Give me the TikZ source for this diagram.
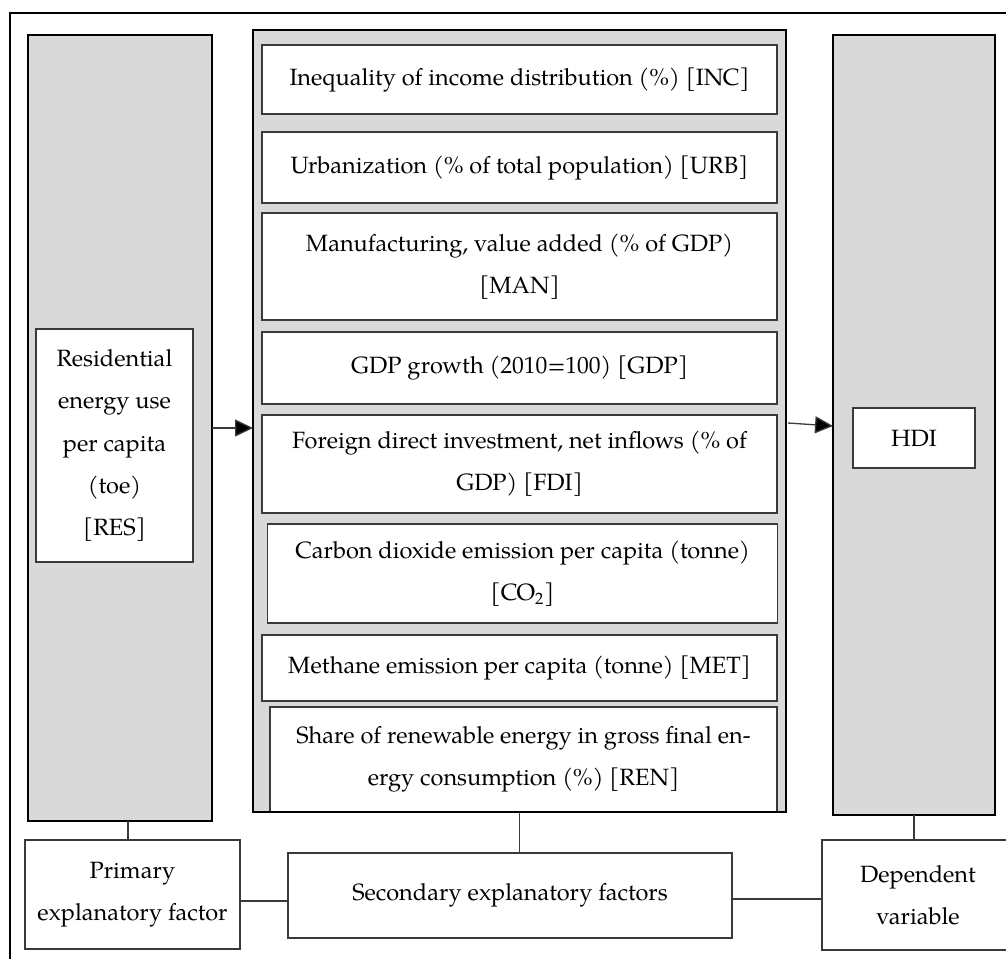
\documentclass[tikz,border=0pt]{standalone}
\usepackage{fontspec}
\setmainfont{TeX Gyre Pagella}
\usetikzlibrary{arrows.meta}

\definecolor{colgray}{HTML}{D9D9D9}
\definecolor{boxline}{HTML}{3A3A3A}

\tikzset{
  colbox/.style={draw=black, line width=1.2pt, fill=colgray, inner sep=0pt, outer sep=0pt},
  factorbox/.style={draw=boxline, line width=0.75pt, fill=white, align=center,
    inner sep=0pt, outer sep=0pt, minimum width=10.3cm},
  namebox/.style={draw=boxline, line width=0.75pt, fill=white, align=center,
    inner sep=0pt, outer sep=0pt},
  link/.style={draw=boxline, line width=0.75pt},
  flow/.style={-{Triangle[length=0.36cm, width=0.34cm, fill=black]}, line width=0.75pt, draw=boxline}
}

\begin{document}
\begin{tikzpicture}[x=0.02cm, y=-0.02cm, font=\fontsize{13.4}{24}\selectfont]
	\useasboundingbox (0,0) rectangle (1006,958);
	\clip (0,0) rectangle (1006,958);

	% outer frame
	\draw[line width=1.1pt] (10,13) rectangle (1030,990);

	% columns
	\node[colbox, minimum width=3.68cm, minimum height=15.72cm] (resCol) at (120,428) {};
	\node[colbox, minimum width=10.66cm, minimum height=15.64cm] (midCol) at (519.5,421) {};
	\node[colbox, minimum width=3.24cm, minimum height=15.6cm] (hdiCol) at (914,425) {};

	% secondary explanatory factors
	\node[factorbox, minimum height=1.38cm] (inc) at (519.5,79.5) {Inequality of income distribution (\%) [INC]};
	\node[factorbox, minimum height=1.42cm] (urb) at (519.5,167.5) {Urbanization (\% of total population) [URB]};
	\node[factorbox, minimum height=2.14cm] (man) at (519.5,266.5) {Manufacturing, value added (\% of GDP)\\{}[MAN]};
	\node[factorbox, minimum height=1.44cm] (gdp) at (519.5,368) {GDP growth (2010=100) [GDP]};
	\node[factorbox, minimum height=1.96cm] (fdi) at (519.5,464) {Foreign direct investment, net inflows (\% of\\ GDP) [FDI]};
	\node[factorbox, minimum height=1.98cm, minimum width=10.2cm] (co2) at (522.5,573.5) {Carbon dioxide emission per capita (tonne)\\{}[CO\textsubscript{2}]};
	\node[factorbox, minimum height=1.32cm] (met) at (519.5,668) {Methane emission per capita (tonne) [MET]};
	\node[factorbox, minimum height=2.1cm, minimum width=10.14cm] (ren) at (523.5,759.5) {Share of renewable energy in gross final en-\\ ergy consumption (\%) [REN]};
	\draw[line width=1.6pt] (midCol.south west) rectangle (midCol.north east);

	% primary factor and dependent variable
	\node[namebox, minimum width=3.14cm, minimum height=4.66cm] (res) at (114.5,445.5) {Residential\\ energy use\\ per capita\\ (toe)\\{}[RES]};
	\node[namebox, minimum width=2.44cm, minimum height=1.2cm] (hdi) at (914,438) {HDI};

	% arrows
	\draw[flow] (resCol.east |- 0,428) -- (midCol.west |- 0,428);
	\draw[flow] (788,423) -- (hdiCol.west |- 0,426);

	% legend
	\node[namebox, minimum width=4.3cm, minimum height=2.18cm] (primary) at (132.5,894.5) {Primary\\ explanatory factor};
	\node[namebox, minimum width=8.88cm, minimum height=1.7cm] (secondary) at (510,895.5) {Secondary explanatory factors};
	\node[namebox, minimum width=3.84cm, minimum height=2.2cm, text width=3.68cm] (dependent) at (918,895) {Dependent\\ variable};

	% connectors
	\draw[link] (resCol.south -| 128,0) -- (primary.north -| 128,0);
	\draw[link] (midCol.south) -- (secondary.north -| midCol.south);
	\draw[link] (hdiCol.south) -- (dependent.north -| hdiCol.south);
	\draw[link] (primary.east |- 0,901) -- (secondary.west |- 0,901);
	\draw[link] (secondary.east |- 0,899) -- (dependent.west |- 0,899);
\end{tikzpicture}
\end{document}
